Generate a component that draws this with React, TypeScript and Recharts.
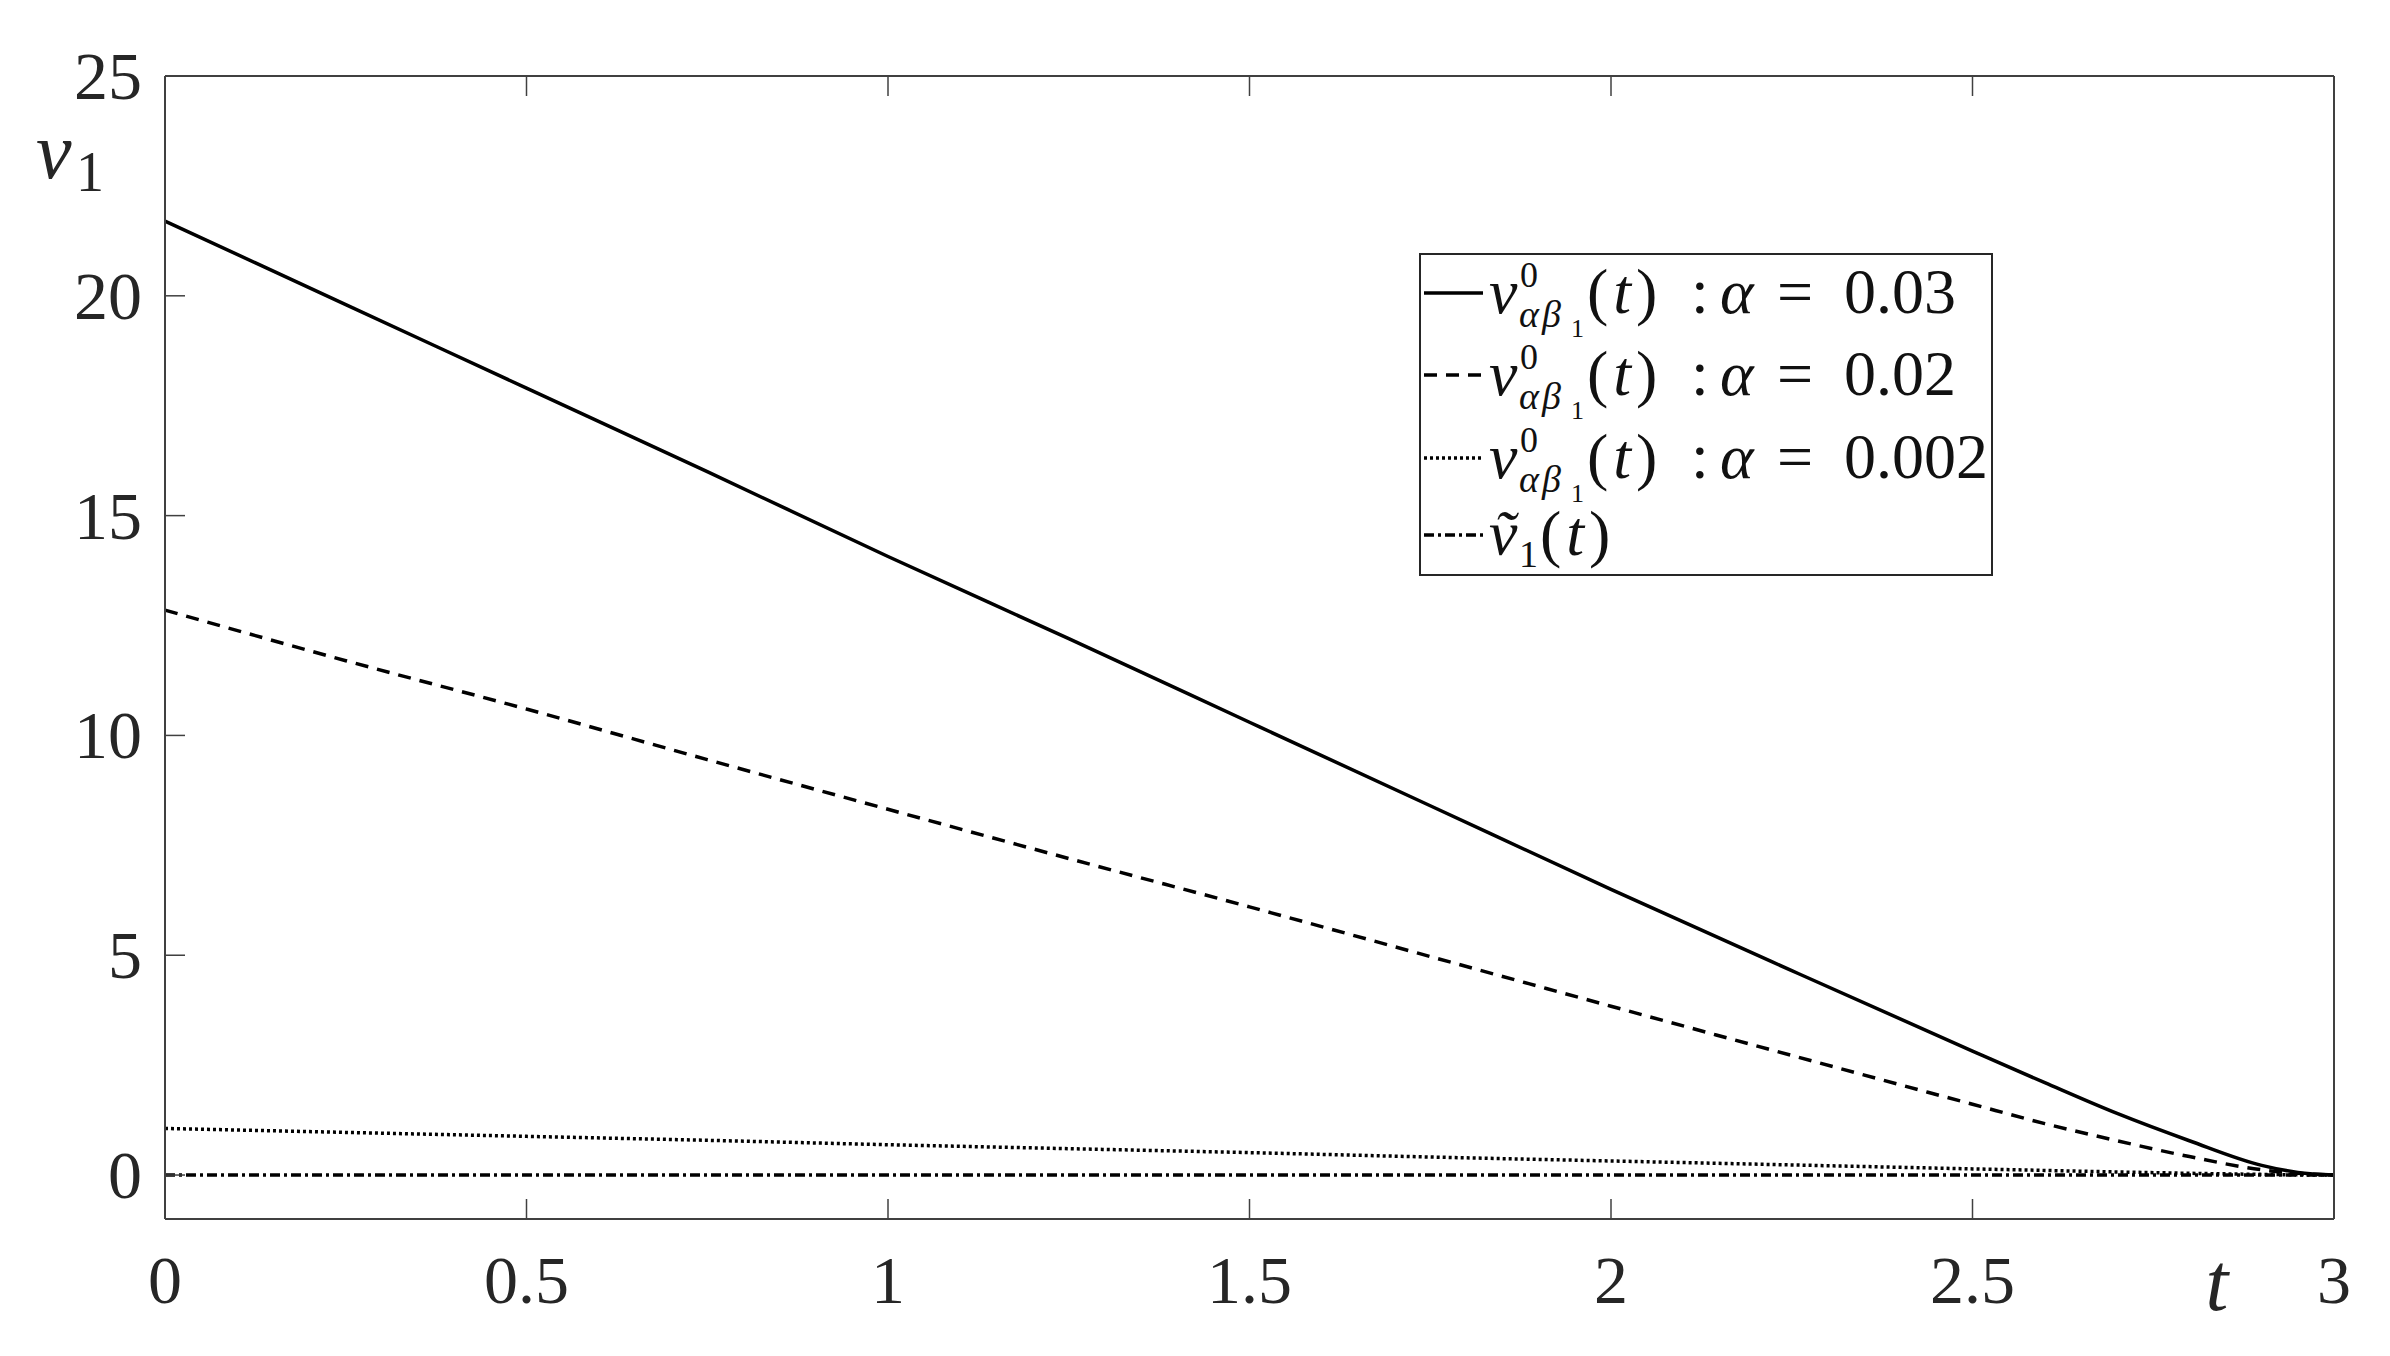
import { LineChart, Line, XAxis, YAxis, Legend, Label } from "recharts"

// time grid and curves
const tValues = [0, 0.25, 0.5, 0.75, 1, 1.25, 1.5, 1.75, 2, 2.25, 2.5, 2.6, 2.7, 2.8, 2.9, 2.95, 3]
const vAlpha003 = [21.7, 19.8, 17.9, 16.0, 14.07, 12.2, 10.3, 8.4, 6.5, 4.65, 2.82, 2.1, 1.4, 0.78, 0.22, 0.06, 0]
const vAlpha002 = [12.85, 11.7, 10.6, 9.45, 8.32, 7.2, 6.1, 4.97, 3.84, 2.72, 1.61, 1.17, 0.78, 0.42, 0.12, 0.04, 0]
const vAlpha0002 = [1.06, 0.97, 0.88, 0.79, 0.69, 0.6, 0.51, 0.41, 0.32, 0.23, 0.14, 0.105, 0.07, 0.04, 0.015, 0.005, 0]
const vTilde = [0, 0, 0, 0, 0, 0, 0, 0, 0, 0, 0, 0, 0, 0, 0, 0, 0]

const xTicks = [0, 0.5, 1, 1.5, 2, 2.5, 3]
const yTicks = [0, 5, 10, 15, 20, 25]

const series = [
    { key: "a", dash: undefined, alpha: "0.03" },
    { key: "b", dash: "13 9", alpha: "0.02" },
    { key: "c", dash: "3 3", alpha: "0.002" },
    { key: "d", dash: "10 4 3 4", alpha: null },
]

const data = tValues.map((t, i) => ({
    t,
    a: vAlpha003[i],
    b: vAlpha002[i],
    c: vAlpha0002[i],
    d: vTilde[i],
}))

const SERIF = "'Times New Roman', Times, 'Liberation Serif', serif"
const INK = "#262626"
const FRAME = "#404040"
const TICK = 20

function BottomTick({ x, y, payload }: any) {
    return (
        <g>
            <line x1={x} y1={y} x2={x} y2={y - TICK} stroke={FRAME} strokeWidth={1.5} />
            <text x={x} y={y + 84} textAnchor="middle" fontFamily={SERIF} fontSize={68} fill={INK}>
                {payload.value}
            </text>
        </g>
    )
}

function TopTick({ x, y }: any) {
    return <line x1={x} y1={y} x2={x} y2={y + TICK} stroke={FRAME} strokeWidth={1.5} />
}

function LeftTick({ x, y, payload }: any) {
    return (
        <g>
            <line x1={x} y1={y} x2={x + TICK} y2={y} stroke={FRAME} strokeWidth={1.5} />
            <text x={x - 23} y={y + 23} textAnchor="end" fontFamily={SERIF} fontSize={68} fill={INK}>
                {payload.value}
            </text>
        </g>
    )
}

function RightTick({ x, y }: any) {
    return <line x1={x} y1={y} x2={x - TICK} y2={y} stroke={FRAME} strokeWidth={1.5} />
}

function LegendBox() {
    const rowY = [40, 122, 205, 282]
    return (
        <svg width={574} height={323} style={{ display: "block" }}>
            <rect x={1} y={1} width={572} height={321} fill="#fff" stroke={INK} strokeWidth={2} />
            {series.map((s, i) => {
                const cy = rowY[i]
                return (
                    <g key={s.key} fontFamily={SERIF} fill="#111">
                        <line x1={5} y1={cy} x2={64} y2={cy} stroke="#000" strokeWidth={3.5} strokeDasharray={s.dash} />
                        {s.alpha ? (
                            <>
                                <text x={70} y={cy + 20} fontSize={64} fontStyle="italic">v</text>
                                <text x={101} y={cy - 6} fontSize={36}>0</text>
                                <text x={100} y={cy + 34} fontSize={38} fontStyle="italic">α</text>
                                <text x={123} y={cy + 34} fontSize={38} fontStyle="italic">β</text>
                                <text x={152} y={cy + 44} fontSize={26}>1</text>
                                <text x={168} y={cy + 20} fontSize={64} letterSpacing={5}>
                                    (<tspan fontStyle="italic">t</tspan>)
                                </text>
                                <text x={272} y={cy + 20} fontSize={64}>:</text>
                                <text x={301} y={cy + 20} fontSize={64} fontStyle="italic">α</text>
                                <text x={358} y={cy + 20} fontSize={64}>=</text>
                                <text x={425} y={cy + 20} fontSize={64}>{s.alpha}</text>
                            </>
                        ) : (
                            <>
                                <text x={70} y={cy + 20} fontSize={64} fontStyle="italic">ṽ</text>
                                <text x={100} y={cy + 32} fontSize={38}>1</text>
                                <text x={121} y={cy + 20} fontSize={64} letterSpacing={5}>
                                    (<tspan fontStyle="italic">t</tspan>)
                                </text>
                            </>
                        )}
                    </g>
                )
            })}
        </svg>
    )
}

export default function App() {
    return (
        <div style={{ position: "absolute", left: 0, top: 0, width: 2390, height: 1356, background: "#fff" }}>
            <LineChart width={2390} height={1356} data={data} margin={{ top: 75, right: 55, bottom: 136, left: 164 }}>
                <XAxis
                    dataKey="t"
                    type="number"
                    domain={[0, 3]}
                    ticks={xTicks}
                    interval={0}
                    height={1}
                    tickSize={0}
                    tickMargin={0}
                    tickLine={false}
                    tick={<BottomTick />}
                    axisLine={{ stroke: FRAME, strokeWidth: 2 }}
                >
                    <Label
                        content={({ viewBox }: any) => (
                            <text
                                x={viewBox.x + viewBox.width - 117}
                                y={viewBox.y + 91}
                                textAnchor="middle"
                                fontFamily={SERIF}
                                fontStyle="italic"
                                fontSize={82}
                                fill={INK}
                            >
                                t
                            </text>
                        )}
                    />
                </XAxis>
                <XAxis
                    xAxisId="top"
                    orientation="top"
                    dataKey="t"
                    type="number"
                    domain={[0, 3]}
                    ticks={xTicks}
                    interval={0}
                    height={1}
                    tickSize={0}
                    tickMargin={0}
                    tickLine={false}
                    tick={<TopTick />}
                    axisLine={{ stroke: FRAME, strokeWidth: 2 }}
                />
                <YAxis
                    type="number"
                    domain={[-1, 25]}
                    ticks={yTicks}
                    interval={0}
                    width={1}
                    tickSize={0}
                    tickMargin={0}
                    tickLine={false}
                    tick={<LeftTick />}
                    axisLine={{ stroke: FRAME, strokeWidth: 2 }}
                >
                    <Label
                        content={({ viewBox }: any) => (
                            <g fontFamily={SERIF} fill={INK}>
                                <text x={viewBox.x - 128} y={viewBox.y + 102} fontStyle="italic" fontSize={80}>
                                    v
                                </text>
                                <text x={viewBox.x - 88} y={viewBox.y + 115} fontSize={56}>
                                    1
                                </text>
                            </g>
                        )}
                    />
                </YAxis>
                <YAxis
                    yAxisId="right"
                    orientation="right"
                    type="number"
                    domain={[-1, 25]}
                    ticks={yTicks}
                    interval={0}
                    width={1}
                    tickSize={0}
                    tickMargin={0}
                    tickLine={false}
                    tick={<RightTick />}
                    axisLine={{ stroke: FRAME, strokeWidth: 2 }}
                />
                {series.map((s) => (
                    <Line
                        key={s.key}
                        dataKey={s.key}
                        type="monotone"
                        stroke="#000"
                        strokeWidth={3.5}
                        strokeDasharray={s.dash}
                        dot={false}
                        activeDot={false}
                        isAnimationActive={false}
                    />
                ))}
                <Legend
                    layout="vertical"
                    align="center"
                    verticalAlign="middle"
                    content={() => <LegendBox />}
                    wrapperStyle={{ left: 1419, top: 253, width: 574, height: 323 }}
                />
            </LineChart>
        </div>
    )
}
